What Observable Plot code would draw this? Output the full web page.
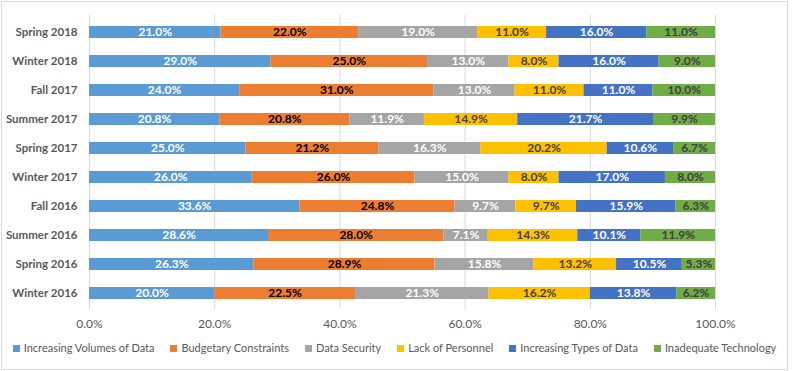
<!DOCTYPE html>
<html><head><meta charset="utf-8">
<script src="https://cdn.jsdelivr.net/npm/d3@7"></script>
<script src="https://cdn.jsdelivr.net/npm/@observablehq/plot@0.6"></script>
<style>
body{margin:0;background:#fff;font-family:Lato,"Open Sans",sans-serif;}
#frame{position:absolute;left:1px;top:1px;width:785px;height:367px;border:1px solid #d9d9d9;background:#fff;}
#legend{position:absolute;left:0;top:339px;width:785px;display:flex;flex-wrap:nowrap;justify-content:center;gap:16px;font-size:11px;color:#595959;white-space:nowrap;}
#legend span.sw{display:inline-block;width:7px;height:7px;margin-right:4px;vertical-align:middle;position:relative;top:-1px;}
</style></head>
<body><div id="frame"><div id="chart"></div><div id="legend"></div></div>
<script>
const periods = ["Spring 2018","Winter 2018","Fall 2017","Summer 2017","Spring 2017","Winter 2017","Fall 2016","Summer 2016","Spring 2016","Winter 2016"];
const categories = ["Increasing Volumes of Data","Budgetary Constraints","Data Security","Lack of Personnel","Increasing Types of Data","Inadequate Technology"];
const colors = ["#5B9BD5","#ED7D31","#A5A5A5","#FFC000","#4472C4","#70AD47"];
const labelColors = ["#ffffff","#000000","#ffffff","#404040","#ffffff","#404040"];
const volumes   = [21.0,29.0,24.0,20.8,25.0,26.0,33.6,28.6,26.3,20.0];
const budget    = [22.0,25.0,31.0,20.8,21.2,26.0,24.8,28.0,28.9,22.5];
const security  = [19.0,13.0,13.0,11.9,16.3,15.0,9.7,7.1,15.8,21.3];
const personnel = [11.0,8.0,11.0,14.9,20.2,8.0,9.7,14.3,13.2,16.2];
const types     = [16.0,16.0,11.0,21.7,10.6,17.0,15.9,10.1,10.5,13.8];
const tech      = [11.0,9.0,10.0,9.9,6.7,8.0,6.3,11.9,5.3,6.2];
const xTicks = [0,20,40,60,80,100];

const series = [volumes,budget,security,personnel,types,tech];
const data = [];
categories.forEach((c,ci)=>periods.forEach((p,pi)=>data.push({period:p,cat:c,value:series[ci][pi],ci})));

const chart = Plot.plot({
  width:785, height:330,
  marginLeft:87, marginRight:72, marginTop:13, marginBottom:23,
  style:{fontFamily:"Lato, 'Open Sans', sans-serif", background:"transparent"},
  x:{domain:[0,100], ticks:xTicks, tickFormat:d=>d.toFixed(1)+"%", label:null},
  y:{domain:periods, paddingInner:0.59, paddingOuter:0.295, label:null},
  color:{domain:categories, range:colors},
  marks:[
    Plot.gridX(xTicks,{stroke:"#d9d9d9", strokeOpacity:1}),
    Plot.barX(data, Plot.stackX({x:"value", y:"period", fill:"cat", order:null})),
    Plot.text(data, Plot.stackX({x:"value", y:"period", z:"cat", order:null, text:d=>d.value.toFixed(1)+"%", fill:d=>labelColors[d.ci], fontWeight:"bold", fontSize:12})),
    Plot.axisX({ticks:xTicks, tickFormat:d=>d.toFixed(1)+"%", tickSize:0, tickPadding:10, fontSize:12, color:"#595959", label:null}),
    Plot.axisY({tickSize:0, tickPadding:12, fontSize:11.5, fontWeight:"bold", color:"#595959", label:null})
  ]
});
document.getElementById("chart").appendChild(chart);
const lg = document.getElementById("legend");
categories.forEach((c,i)=>{
  const item=document.createElement("div");
  item.innerHTML=`<span class="sw" style="background:${colors[i]}"></span>${c}`;
  lg.appendChild(item);
});
</script></body></html>
